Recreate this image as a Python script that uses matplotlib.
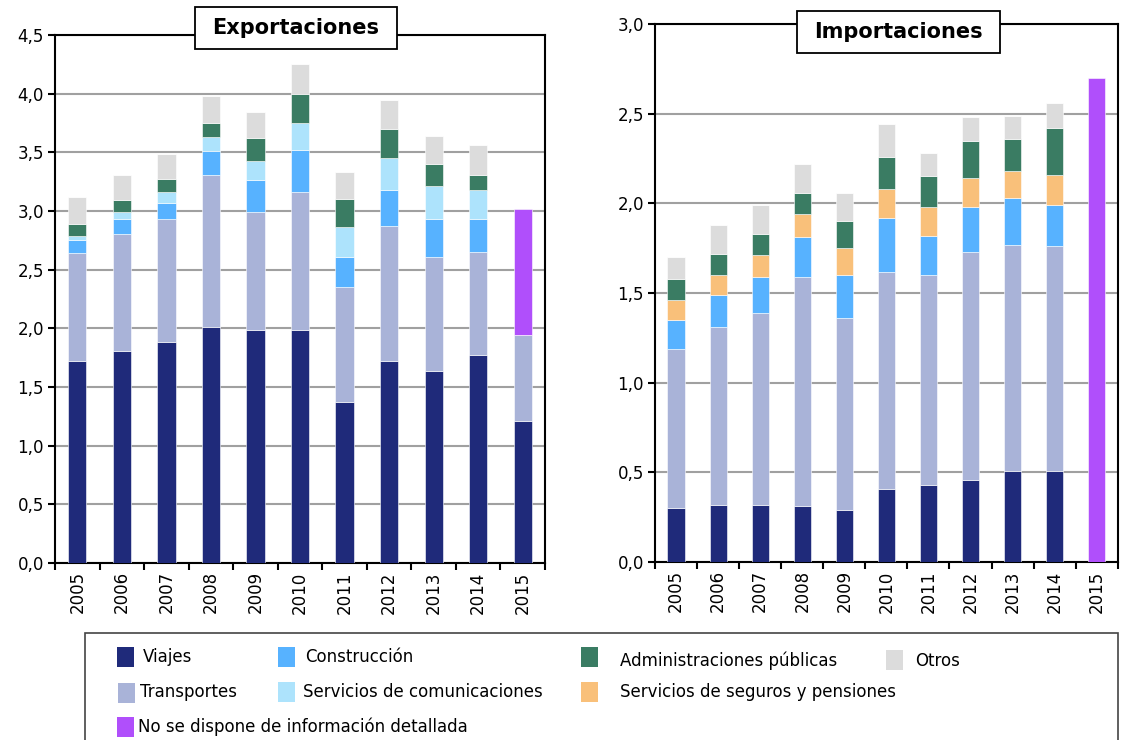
import matplotlib.pyplot as plt
import numpy as np
from matplotlib.patches import Rectangle

years = ['2005', '2006', '2007', '2008', '2009', '2010', '2011', '2012', '2013', '2014', '2015']

# Exportaciones (segment heights)
exp_viajes = [1.72, 1.81, 1.88, 2.01, 1.99, 1.99, 1.37, 1.72, 1.64, 1.77, 1.21]
exp_transportes = [0.92, 0.99, 1.05, 1.30, 1.00, 1.17, 0.98, 1.15, 0.97, 0.88, 0.73]
exp_construccion = [0.11, 0.13, 0.14, 0.20, 0.27, 0.36, 0.26, 0.31, 0.32, 0.28, 0.0]
exp_comunicaciones = [0.04, 0.06, 0.09, 0.12, 0.17, 0.23, 0.25, 0.27, 0.28, 0.25, 0.0]
exp_administraciones = [0.10, 0.10, 0.11, 0.12, 0.19, 0.25, 0.24, 0.25, 0.19, 0.13, 0.0]
exp_otros = [0.23, 0.22, 0.22, 0.23, 0.22, 0.25, 0.23, 0.25, 0.24, 0.25, 0.0]
exp_sin_detalle = [0, 0, 0, 0, 0, 0, 0, 0, 0, 0, 1.08]

# Importaciones (segment heights)
imp_viajes = [0.30, 0.32, 0.32, 0.31, 0.29, 0.41, 0.43, 0.46, 0.51, 0.51, 0.0]
imp_transportes = [0.89, 0.99, 1.07, 1.28, 1.07, 1.21, 1.17, 1.27, 1.26, 1.25, 0.0]
imp_construccion = [0.16, 0.18, 0.20, 0.22, 0.24, 0.30, 0.22, 0.25, 0.26, 0.23, 0.0]
imp_seguros = [0.11, 0.11, 0.12, 0.13, 0.15, 0.16, 0.16, 0.16, 0.15, 0.17, 0.0]
imp_administraciones = [0.12, 0.12, 0.12, 0.12, 0.15, 0.18, 0.17, 0.21, 0.18, 0.26, 0.0]
imp_otros = [0.12, 0.16, 0.16, 0.16, 0.16, 0.18, 0.13, 0.13, 0.13, 0.14, 0.0]
imp_sin_detalle = [0, 0, 0, 0, 0, 0, 0, 0, 0, 0, 2.70]

c_viajes = '#1f2a7a'
c_transportes = '#a9b3d8'
c_construccion = '#57b2ff'
c_comunicaciones = '#ade3fc'
c_administraciones = '#3a7c63'
c_otros = '#dcdcdc'
c_seguros = '#f9c07a'
c_sin_detalle = '#b04ffb'

plt.rcParams['font.family'] = ['DejaVu Sans']

W, H = 1123, 740


def fx(px):
    return px / W


def fy(py):
    return 1 - py / H


fig = plt.figure(figsize=(11.23, 7.40), dpi=100)
ax1 = fig.add_axes([0.049, 0.2392, 0.4363, 0.7135])
ax2 = fig.add_axes([0.5833, 0.2405, 0.412, 0.727])


def stacked(ax, series, ymax, title, box):
    x = np.arange(len(years))
    bottom = np.zeros(len(years))
    for vals, col in series:
        vals = np.array(vals)
        ax.bar(x, vals, 0.41, bottom=bottom, color=col, edgecolor='white', linewidth=0.4, zorder=3)
        bottom += vals
    ax.set_xlim(-0.5, len(years) - 0.5)
    ax.set_ylim(0, ymax)
    ticks = np.arange(0, ymax + 0.01, 0.5)
    ax.set_yticks(ticks)
    ax.set_yticklabels([f'{t:.1f}'.replace('.', ',') for t in ticks], fontsize=12)
    ax.set_xticks(x)
    ax.set_xticklabels(years, rotation=90, fontsize=12)
    ax.set_xticks(np.arange(-0.5, len(years), 1), minor=True)
    ax.tick_params(axis='x', which='major', length=0, pad=6)
    ax.tick_params(axis='x', which='minor', length=5, width=1.5, direction='out')
    ax.tick_params(axis='y', length=5, width=1.5, direction='out', pad=3)
    ax.yaxis.grid(True, color='#a0a0a0', linewidth=1.5, zorder=0)
    ax.set_axisbelow(True)
    for s in ax.spines.values():
        s.set_linewidth(1.5)
        s.set_color('black')
    # title box in pixel coords
    x0, y0, x1, y1 = box
    fig.add_artist(Rectangle((fx(x0), fy(y1)), fx(x1) - fx(x0), fy(y0) - fy(y1),
                             transform=fig.transFigure, facecolor='white',
                             edgecolor='black', linewidth=1.3, zorder=10))
    fig.text(fx((x0 + x1) / 2), fy((y0 + y1) / 2), title, ha='center', va='center',
             fontsize=15, fontweight='bold', zorder=11)


stacked(ax1, [(exp_viajes, c_viajes), (exp_transportes, c_transportes),
              (exp_construccion, c_construccion), (exp_comunicaciones, c_comunicaciones),
              (exp_administraciones, c_administraciones), (exp_otros, c_otros),
              (exp_sin_detalle, c_sin_detalle)], 4.5, 'Exportaciones', (195, 7, 397, 49))

stacked(ax2, [(imp_viajes, c_viajes), (imp_transportes, c_transportes),
              (imp_construccion, c_construccion), (imp_seguros, c_seguros),
              (imp_administraciones, c_administraciones), (imp_otros, c_otros),
              (imp_sin_detalle, c_sin_detalle)], 3.0, 'Importaciones', (797, 11, 1000, 53))

# legend box drawn in pixel layout
fig.add_artist(Rectangle((fx(85), fy(760)), fx(1118) - fx(85), fy(633) - fy(760),
                         transform=fig.transFigure, facecolor='white', edgecolor='#444444', linewidth=1.2))

legend_items = [
    ('Viajes', c_viajes, 117, 647, 143, 657),
    ('Construcción', c_construccion, 278, 647, 305, 657),
    ('Administraciones públicas', c_administraciones, 581, 647, 620, 661),
    ('Otros', c_otros, 886, 650, 915, 661),
    ('Transportes', c_transportes, 118, 683, 140, 692),
    ('Servicios de comunicaciones', c_comunicaciones, 278, 682, 303, 692),
    ('Servicios de seguros y pensiones', c_seguros, 581, 682, 620, 692),
    ('No se dispone de información detallada', c_sin_detalle, 117, 717, 138, 727),
]
for label, col, px, py, tx, ty in legend_items:
    fig.add_artist(Rectangle((fx(px), fy(py + 20)), fx(17), 20 / H,
                             transform=fig.transFigure, facecolor=col, edgecolor='none'))
    fig.text(fx(tx), fy(ty), label, ha='left', va='center', fontsize=12)

fig.savefig('out.png', dpi=100)
